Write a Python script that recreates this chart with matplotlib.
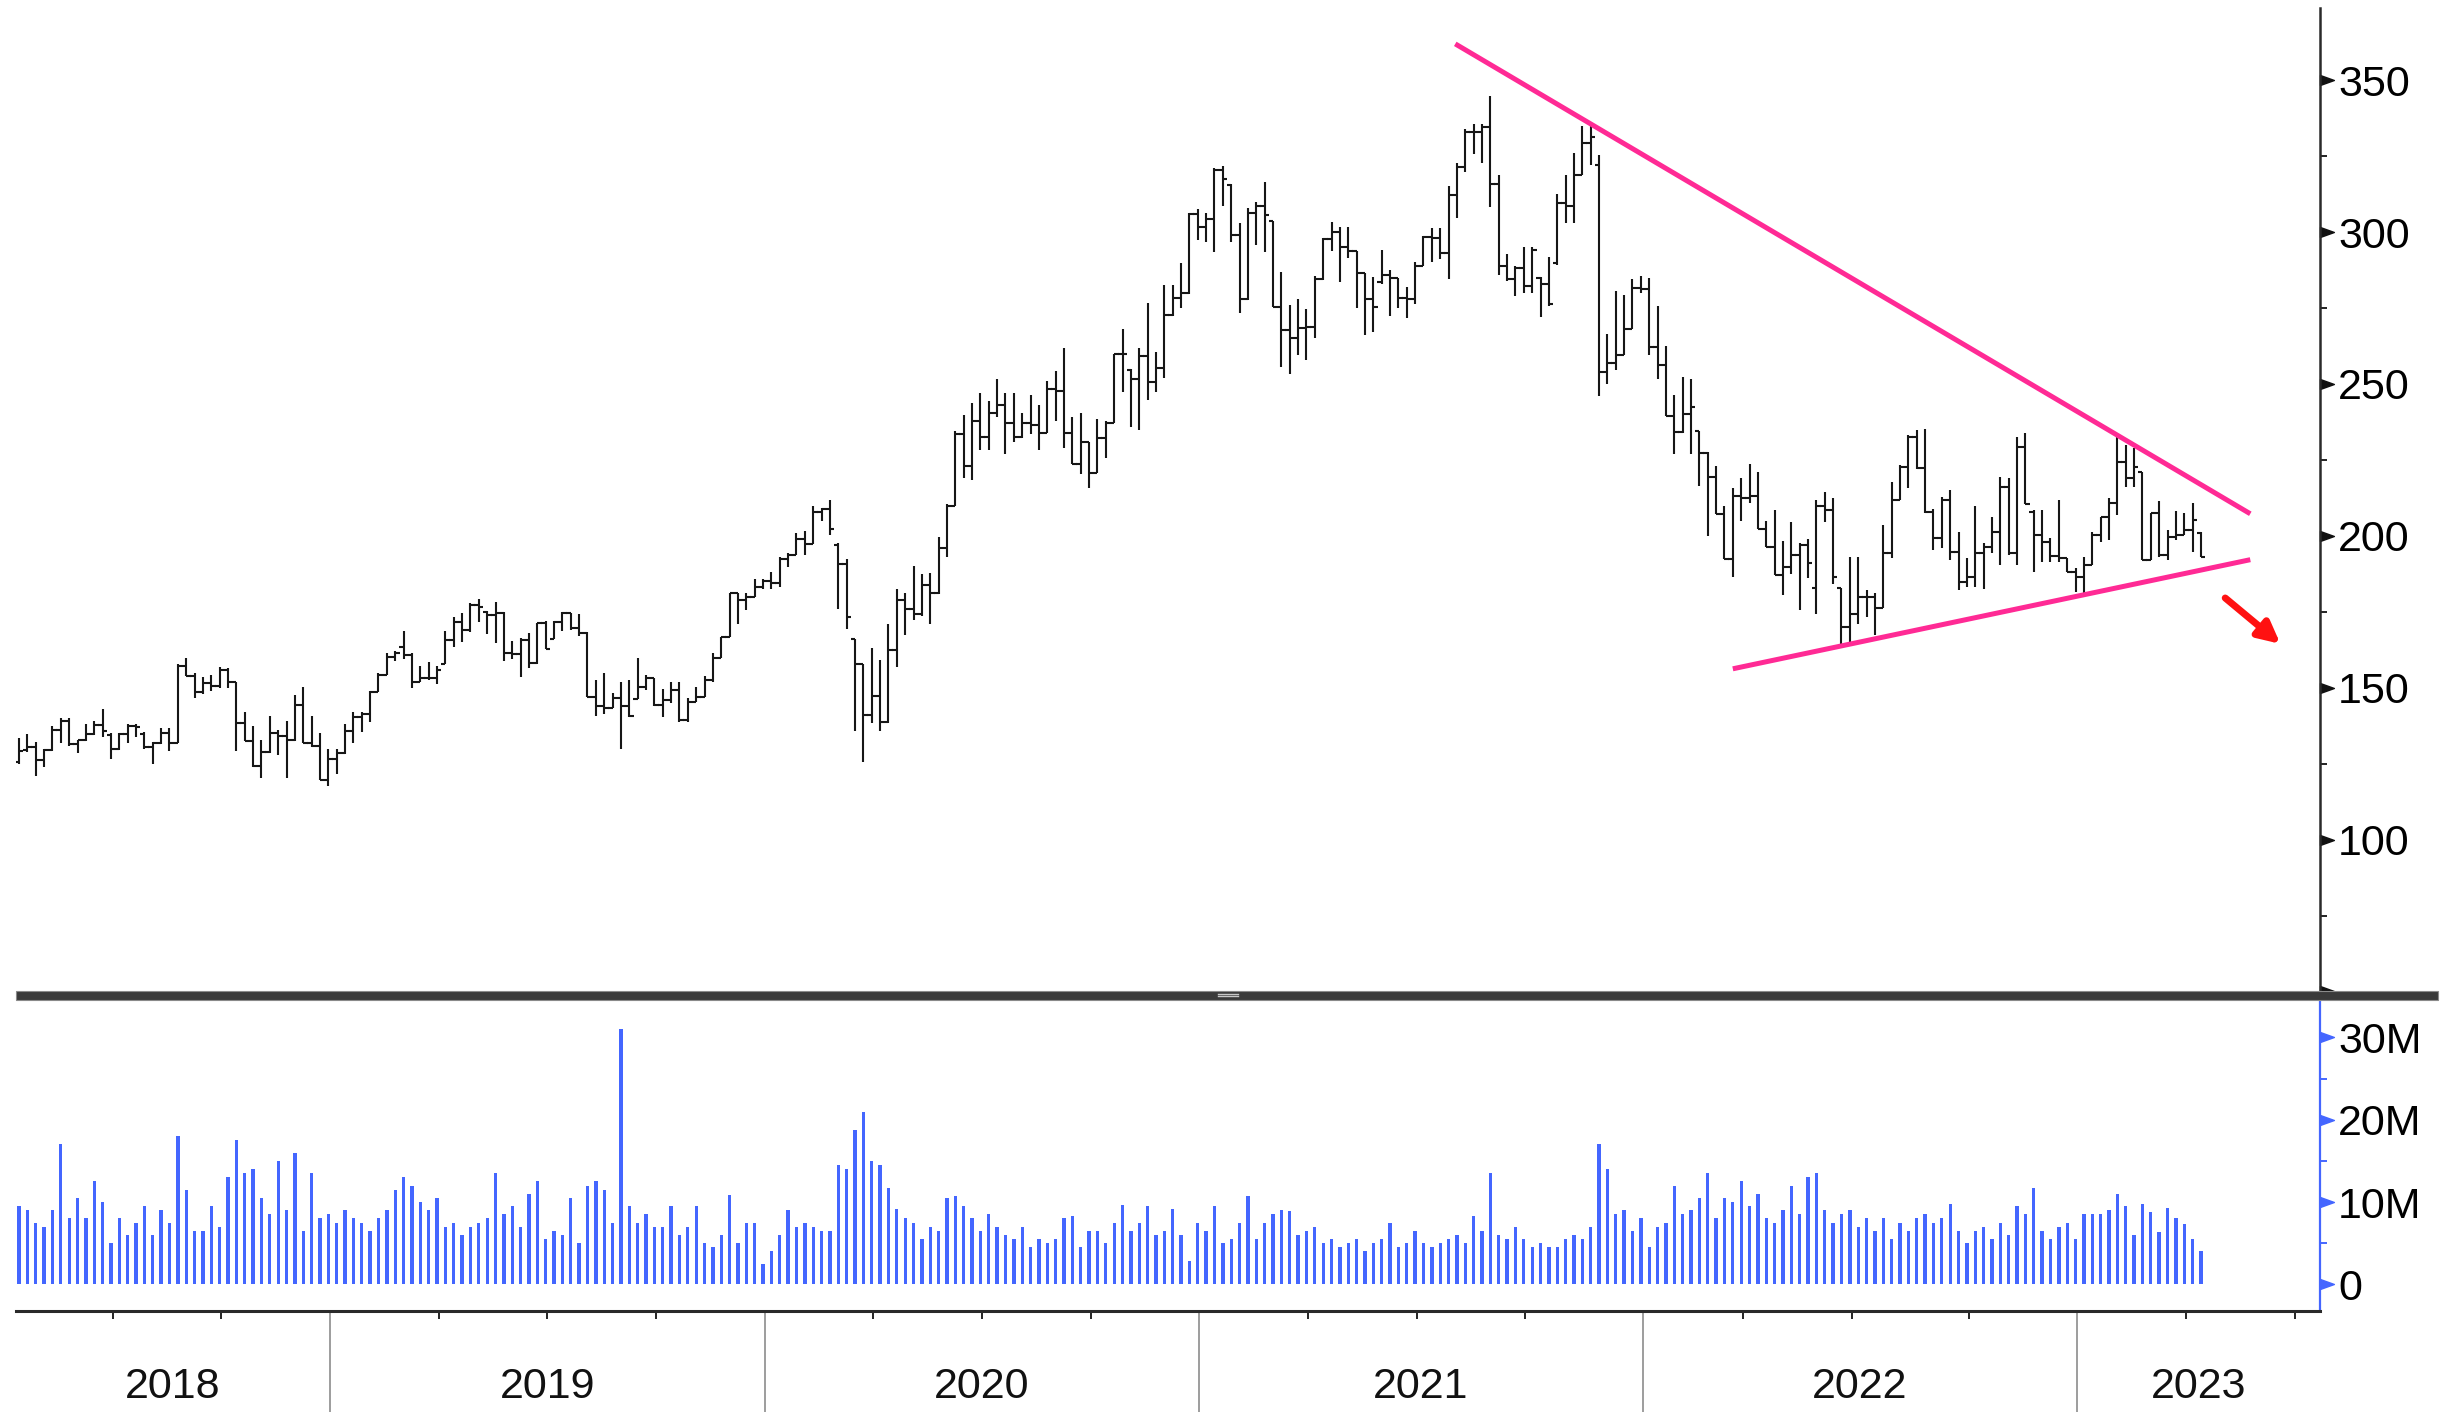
import matplotlib
matplotlib.use("Agg")
import matplotlib.pyplot as plt
from matplotlib.path import Path
from matplotlib.patches import Rectangle
from matplotlib.lines import Line2D
from matplotlib.transforms import blended_transform_factory
import numpy as np
import pandas as pd

plt.rcParams['font.family'] = ['Liberation Sans', 'DejaVu Sans']

# weekly bars (Friday dated), first one 2018-04-13; bars are spaced evenly by index
first_week = '2018-04-13'

opens = [
    125.8, 129.5, 130.5, 126.3, 129.6, 136.2, 139.0, 131.5, 132.9,
    135.0, 137.8, 134.5, 130.0, 135.0, 137.6, 135.0, 130.7, 132.0, 135.1,
    132.0, 157.2, 154.0, 148.8, 151.5, 150.7, 155.9, 152.0, 138.4, 132.6,
    124.3, 129.0, 135.3, 134.3, 132.9, 144.4, 132.0, 131.0, 119.7, 126.5,
    128.5, 136.0, 140.6, 141.5, 148.8, 154.3, 160.3, 163.4, 161.0, 152.1,
    153.2, 153.2, 158.0, 165.8, 171.8, 169.1, 177.3, 175.0, 174.0, 174.6,
    161.4, 161.2, 165.8, 158.1, 171.3, 166.0, 171.8, 174.6, 169.6, 168.2,
    147.1, 143.9, 143.3, 146.6, 143.9, 146.5, 150.4, 153.2, 144.4, 146.1,
    149.3, 139.5, 145.5, 147.1, 152.6, 159.8, 166.9, 181.1, 178.9, 180.0,
    183.3, 185.3, 184.6, 192.4, 193.7, 198.9, 197.2, 208.0, 209.0, 197.0,
    190.7, 166.0, 157.9, 141.0, 147.5, 138.7, 162.5, 178.8, 176.0, 174.2,
    184.0, 181.4, 195.9, 210.0, 233.6, 223.0, 237.9, 232.7, 240.5, 243.1,
    237.3, 232.7, 237.3, 236.6, 234.0, 248.3, 247.7, 234.0, 223.6, 230.8,
    220.6, 232.1, 237.3, 260.0, 254.5, 251.5, 259.2, 250.8, 255.2, 272.7,
    278.2, 279.8, 305.8, 301.8, 304.2, 320.4, 315.5, 299.0, 277.9, 306.1,
    308.6, 303.5, 275.4, 267.8, 265.0, 268.3, 268.9, 284.4, 297.6, 300.1,
    295.0, 293.9, 286.4, 277.9, 283.5, 285.9, 284.8, 278.2, 277.9, 288.8,
    298.5, 297.9, 293.2, 312.2, 321.3, 333.0, 333.0, 334.6, 315.8, 288.8,
    284.6, 288.2, 282.3, 285.0, 282.9, 289.9, 309.5, 308.4, 318.7, 329.3,
    322.0, 254.0, 257.0, 259.4, 268.2, 281.7, 281.1, 262.3, 256.4, 239.4,
    234.1, 240.0, 234.5, 227.3, 219.4, 207.1, 192.4, 213.0, 212.4, 213.2,
    202.4, 196.5, 187.1, 189.7, 193.6, 197.1, 183.0, 210.0, 208.5, 183.0,
    170.1, 174.2, 180.0, 180.0, 176.2, 194.5, 211.8, 222.6, 232.7, 222.2,
    208.0, 199.2, 212.0, 194.8, 185.0, 186.6, 194.5, 196.5, 201.4, 216.0,
    194.3, 229.4, 208.0, 200.3, 198.0, 193.4, 192.6, 188.3, 186.6, 190.4,
    200.3, 206.3, 210.9, 224.4, 219.0, 221.0, 192.1, 207.4, 193.7, 199.8,
    200.3, 202.0, 201.0,
]
highs = [
    133.4, 135.0, 132.3, 130.0, 137.6, 140.0, 140.0, 133.0, 138.0,
    139.0, 143.2, 135.3, 135.3, 138.0, 138.0, 135.5, 132.3, 136.7, 136.7,
    157.8, 159.8, 154.8, 153.7, 154.3, 157.0, 156.5, 152.1, 142.0, 137.6,
    132.9, 140.8, 136.2, 139.1, 147.7, 150.3, 140.8, 135.3, 130.0, 129.8,
    138.0, 142.2, 142.2, 149.0, 154.8, 161.6, 162.0, 168.9, 161.6, 157.2,
    158.7, 157.2, 168.9, 173.5, 174.6, 177.9, 179.2, 175.4, 178.4, 175.1,
    165.6, 166.3, 168.0, 171.3, 172.1, 172.1, 175.1, 174.8, 174.2, 168.5,
    152.6, 154.8, 148.2, 151.8, 152.6, 159.8, 154.3, 153.2, 149.6, 152.1,
    151.8, 146.6, 150.4, 153.9, 161.6, 166.9, 181.4, 181.1, 181.4, 185.7,
    185.9, 188.1, 193.0, 194.4, 201.1, 201.5, 210.0, 209.3, 211.9, 197.6,
    192.4, 166.1, 157.9, 163.2, 159.3, 171.0, 182.4, 181.1, 190.2, 187.6,
    187.9, 199.5, 210.6, 234.7, 239.9, 243.8, 247.0, 244.4, 251.6, 247.0,
    247.0, 240.5, 246.4, 243.1, 250.9, 254.2, 262.0, 239.2, 240.5, 230.8,
    238.6, 237.9, 260.0, 268.2, 254.8, 262.0, 276.8, 260.6, 282.6, 282.6,
    289.7, 306.1, 307.5, 306.1, 320.9, 321.7, 315.7, 302.9, 308.0, 310.0,
    316.6, 303.7, 287.0, 276.0, 278.0, 274.6, 285.5, 297.9, 303.4, 301.8,
    301.8, 293.9, 286.4, 285.1, 294.1, 287.5, 284.8, 281.8, 290.2, 298.7,
    301.2, 301.2, 315.1, 322.6, 333.8, 335.7, 335.7, 344.7, 318.7, 292.9,
    288.8, 295.2, 295.2, 285.2, 291.7, 312.6, 318.7, 326.0, 334.9, 335.4,
    325.2, 266.4, 280.5, 279.4, 284.6, 285.5, 284.9, 275.5, 262.6, 246.5,
    252.3, 251.7, 234.7, 227.5, 222.9, 210.0, 215.9, 219.1, 223.8, 221.0,
    205.0, 208.5, 198.3, 204.7, 197.7, 199.1, 211.8, 214.4, 212.4, 183.0,
    193.0, 193.0, 182.2, 181.1, 203.6, 217.9, 223.3, 233.2, 234.9, 235.1,
    208.8, 212.9, 215.1, 201.4, 192.6, 209.9, 197.6, 206.1, 219.5, 219.0,
    232.4, 233.8, 208.5, 208.5, 199.2, 211.8, 192.6, 189.3, 193.2, 201.4,
    206.3, 212.4, 232.4, 229.9, 228.8, 221.1, 207.7, 211.6, 202.0, 208.3,
    207.4, 210.9, 201.4,
]
lows = [
    125.0, 129.0, 121.0, 124.0, 129.4, 132.0, 131.0, 128.7, 132.5,
    134.5, 134.0, 126.6, 129.5, 132.0, 134.0, 129.9, 124.9, 131.5, 129.3,
    131.8, 153.9, 146.8, 147.9, 149.1, 150.0, 150.0, 129.4, 132.6, 124.1,
    120.3, 128.5, 128.0, 120.3, 132.5, 132.0, 130.7, 119.7, 117.8, 121.6,
    128.2, 132.0, 135.6, 138.9, 148.8, 154.3, 158.9, 159.4, 149.9, 151.8,
    152.6, 151.2, 157.9, 163.4, 165.2, 168.5, 171.8, 167.8, 164.7, 158.9,
    159.4, 153.7, 156.5, 157.9, 162.7, 166.0, 168.9, 169.1, 167.1, 146.9,
    140.8, 141.4, 143.3, 129.8, 140.4, 146.3, 149.3, 144.1, 140.3, 145.2,
    138.9, 138.9, 145.5, 147.1, 152.1, 159.8, 166.9, 171.1, 175.7, 180.0,
    182.4, 182.4, 183.3, 189.8, 193.7, 193.7, 197.2, 204.8, 200.2, 175.9,
    169.4, 135.8, 125.7, 138.4, 135.8, 138.5, 157.0, 167.3, 172.5, 173.8,
    171.2, 181.0, 193.0, 210.0, 219.1, 218.4, 228.2, 228.2, 239.2, 226.9,
    230.8, 232.1, 233.4, 228.2, 234.0, 237.9, 228.8, 223.6, 220.4, 215.8,
    220.6, 225.6, 237.3, 247.4, 236.0, 235.0, 244.7, 247.5, 251.9, 272.4,
    274.9, 279.5, 297.4, 296.6, 293.5, 308.6, 296.8, 273.2, 277.5, 295.7,
    293.5, 275.2, 255.7, 253.3, 259.5, 257.9, 265.0, 284.2, 293.9, 283.7,
    291.3, 274.9, 266.1, 267.2, 282.9, 272.4, 274.9, 271.6, 276.3, 288.8,
    290.2, 291.0, 284.4, 304.5, 319.8, 325.7, 322.6, 308.3, 285.8, 284.0,
    278.8, 280.0, 280.0, 272.0, 275.8, 289.0, 302.9, 302.9, 318.7, 322.2,
    245.9, 250.0, 254.7, 259.4, 268.0, 280.0, 259.4, 251.8, 239.4, 227.1,
    234.0, 227.1, 216.5, 200.0, 207.1, 192.4, 186.5, 205.0, 210.9, 202.4,
    196.5, 187.1, 180.6, 187.4, 175.6, 186.2, 174.4, 204.7, 184.2, 163.6,
    164.8, 171.2, 173.4, 167.5, 176.2, 192.6, 211.8, 215.7, 221.9, 207.7,
    195.4, 195.9, 192.1, 182.2, 183.3, 183.3, 182.4, 194.3, 190.4, 193.7,
    190.4, 210.5, 188.3, 191.5, 191.5, 191.5, 188.3, 181.7, 180.6, 190.4,
    198.1, 198.7, 206.9, 216.2, 216.2, 192.1, 192.1, 193.2, 192.1, 198.7,
    200.3, 194.8, 193.2,
]
closes = [
    129.1, 130.5, 126.3, 129.6, 136.2, 139.0, 131.5, 132.9, 135.0,
    137.8, 136.0, 130.0, 135.0, 137.6, 137.0, 130.7, 132.0, 135.1, 132.0,
    157.2, 154.0, 148.8, 151.5, 150.7, 155.9, 152.0, 138.4, 132.6, 124.3,
    129.0, 135.3, 134.3, 132.9, 144.4, 132.0, 131.0, 119.7, 126.5, 128.5,
    136.0, 140.6, 141.5, 148.8, 154.3, 160.3, 161.6, 161.0, 152.1, 153.2,
    153.2, 155.9, 165.8, 171.8, 169.1, 177.3, 176.5, 174.0, 174.6, 161.4,
    161.2, 165.8, 158.1, 171.3, 162.7, 171.8, 174.6, 169.6, 168.2, 147.1,
    143.9, 143.3, 146.6, 143.9, 140.8, 150.4, 153.2, 144.4, 146.1, 149.3,
    139.5, 145.5, 147.1, 152.6, 159.8, 166.9, 181.1, 178.9, 180.0, 183.3,
    185.3, 184.6, 192.4, 193.7, 198.9, 197.2, 208.0, 209.0, 202.2, 190.7,
    173.3, 157.9, 141.0, 147.5, 138.7, 162.5, 178.8, 176.0, 174.2, 184.0,
    181.4, 195.9, 210.0, 233.6, 223.0, 237.9, 232.7, 240.5, 243.1, 237.3,
    232.7, 237.3, 236.6, 234.0, 248.3, 247.7, 234.0, 223.6, 230.8, 220.6,
    232.1, 237.3, 260.0, 259.9, 251.5, 259.2, 250.8, 255.2, 272.7, 278.2,
    279.8, 305.8, 301.8, 304.2, 320.4, 317.3, 299.0, 277.9, 306.1, 308.6,
    305.6, 275.4, 267.8, 265.0, 268.3, 268.9, 284.4, 297.6, 300.1, 295.0,
    293.9, 286.4, 277.9, 275.4, 285.9, 284.8, 278.2, 277.9, 288.8, 298.5,
    297.9, 293.2, 312.2, 321.3, 333.0, 333.0, 334.6, 315.8, 288.8, 284.6,
    288.2, 282.3, 294.0, 282.9, 276.4, 309.5, 308.4, 318.7, 329.3, 331.1,
    254.0, 257.0, 259.4, 268.2, 281.7, 281.1, 262.3, 256.4, 239.4, 234.1,
    240.0, 242.3, 227.3, 219.4, 207.1, 192.4, 213.0, 212.4, 213.2, 202.4,
    196.5, 187.1, 189.7, 193.6, 197.1, 191.2, 210.0, 208.5, 186.5, 170.1,
    174.2, 180.0, 180.0, 176.2, 194.5, 211.8, 222.6, 232.7, 222.2, 208.0,
    199.2, 212.0, 194.8, 185.0, 186.6, 194.5, 196.5, 201.4, 216.0, 194.3,
    229.4, 210.5, 200.3, 198.0, 193.4, 192.6, 188.3, 186.6, 190.4, 200.3,
    206.3, 210.9, 224.4, 219.0, 222.8, 192.1, 207.4, 193.7, 199.8, 200.3,
    202.0, 205.2, 193.2,
]
# weekly volume, millions
volumes_m = [
    9.5, 9.0, 7.5, 7.0, 9.0, 17.0, 8.0, 10.5, 8.0,
    12.5, 10.0, 5.0, 8.0, 6.0, 7.5, 9.5, 6.0, 9.0, 7.5,
    18.0, 11.5, 6.5, 6.5, 9.5, 7.0, 13.0, 17.5, 13.5, 14.0,
    10.5, 8.5, 15.0, 9.0, 16.0, 6.5, 13.5, 8.0, 8.5, 7.5,
    9.0, 8.0, 7.5, 6.5, 8.0, 9.0, 11.5, 13.0, 12.0, 10.0,
    9.0, 10.5, 7.0, 7.5, 6.0, 7.0, 7.5, 8.0, 13.5, 8.5,
    9.5, 7.0, 11.0, 12.5, 5.5, 6.5, 6.0, 10.5, 5.0, 12.0,
    12.5, 11.5, 7.5, 31.0, 9.5, 7.5, 8.5, 7.0, 7.0, 9.5,
    6.0, 7.0, 9.5, 5.0, 4.5, 6.0, 10.8, 5.0, 7.5, 7.5,
    2.5, 4.0, 6.0, 9.0, 7.0, 7.5, 7.0, 6.5, 6.5, 14.5,
    14.0, 18.7, 21.0, 15.0, 14.5, 11.7, 9.2, 8.0, 7.5, 5.5,
    7.0, 6.5, 10.5, 10.7, 9.5, 8.0, 6.5, 8.5, 7.0, 6.0,
    5.5, 7.0, 4.5, 5.5, 5.0, 5.5, 8.0, 8.3, 4.5, 6.5,
    6.5, 5.0, 7.5, 9.6, 6.5, 7.5, 9.5, 6.0, 6.5, 9.2,
    6.0, 2.8, 7.5, 6.5, 9.5, 5.0, 5.5, 7.5, 10.7, 5.5,
    7.5, 8.5, 9.0, 8.9, 6.0, 6.5, 7.0, 5.0, 5.5, 4.5,
    5.0, 5.5, 4.0, 5.0, 5.5, 7.4, 4.5, 5.0, 6.5, 5.0,
    4.5, 5.0, 5.5, 6.0, 5.0, 8.3, 6.5, 13.5, 6.0, 5.5,
    7.0, 5.5, 4.5, 5.0, 4.5, 4.5, 5.5, 6.0, 5.5, 7.0,
    17.0, 14.0, 8.5, 9.0, 6.5, 8.0, 4.5, 7.0, 7.5, 12.0,
    8.5, 9.0, 10.5, 13.5, 8.0, 10.5, 10.0, 12.5, 9.5, 11.0,
    8.0, 7.5, 9.0, 12.0, 8.5, 13.0, 13.5, 9.0, 7.5, 8.5,
    9.0, 7.0, 8.0, 6.5, 8.0, 5.5, 7.5, 6.5, 8.0, 8.5,
    7.5, 8.0, 9.8, 6.5, 5.0, 6.5, 7.0, 5.5, 7.5, 6.0,
    9.5, 8.5, 11.7, 6.5, 5.5, 7.0, 7.5, 5.5, 8.5, 8.5,
    8.5, 9.0, 11.0, 9.5, 6.0, 9.8, 8.8, 6.4, 9.3, 8.1,
    7.3, 5.5, 4.0,
]

price_ticks = [100, 150, 200, 250, 300, 350]
vol_ticks = [0, 10, 20, 30]
vol_tick_labels = ['0', '10M', '20M', '30M']
years = [2018, 2019, 2020, 2021, 2022, 2023]
axis_end = '2023-07-28'

# hand-drawn trend lines and arrow, (bar position, price)
upper_line_x = [171.8, 266.9]
upper_line_y = [361.9, 207.3]
lower_line_x = [205.0, 266.9]
lower_line_y = [156.3, 192.2]
arrow_from = (263.9, 179.6)
arrow_to = (270.5, 164.5)

# ---------------------------------------------------------------
n = len(closes)
x = np.arange(n)
weeks = pd.date_range(first_week, axis_end, freq='7D')

fig = plt.figure(figsize=(24.59, 14.12), dpi=100)
ax = fig.add_axes([0.00651, 0.29816, 0.93697, 0.69617])
axv = fig.add_axes([0.00651, 0.07153, 0.93697, 0.22096], sharex=ax)

bar_col = '#161616'
tick_len = 0.52
ax.vlines(x, lows, highs, color=bar_col, lw=1.5)
ax.hlines(opens, x - tick_len, x, color=bar_col, lw=1.5)
ax.hlines(closes, x, x + tick_len, color=bar_col, lw=1.5)

ax.plot(upper_line_x, upper_line_y, color='#ff2a95', lw=3.6, solid_capstyle='butt')
ax.plot(lower_line_x, lower_line_y, color='#ff2a95', lw=3.6, solid_capstyle='butt')
ax.annotate('', xy=arrow_to, xytext=arrow_from,
            arrowprops=dict(arrowstyle='-|>', color='#ff1111', lw=5,
                            mutation_scale=32, shrinkA=0, shrinkB=0))

xmin, xmax = -0.36, 275.24
ax.set_xlim(xmin, xmax)
ax.set_ylim(50.3, 373.7)

# price axis on the right
for s in ['top', 'left', 'bottom']:
    ax.spines[s].set_visible(False)
ax.spines['right'].set_color('#2a2a2a')
ax.spines['right'].set_linewidth(1.8)
ax.yaxis.tick_right()
ax.set_yticks(price_ticks)
ax.set_yticklabels([str(v) for v in price_ticks])
ax.set_yticks(np.arange(75, 350, 50), minor=True)
ax.tick_params(axis='y', which='major', length=0, pad=13, labelsize=31)
ax.tick_params(axis='y', which='minor', length=5, width=1.4, color='#222222')
ax.tick_params(axis='x', which='both', bottom=False, labelbottom=False)

tri = Path([(0, -0.36), (1, 0), (0, 0.36), (0, -0.36)],
           [Path.MOVETO, Path.LINETO, Path.LINETO, Path.CLOSEPOLY])
tr_p = blended_transform_factory(ax.transAxes, ax.transData)
for v in price_ticks + [50.3]:
    ax.plot([1], [v], marker=tri, ms=20, color='#111111', lw=0,
            transform=tr_p, clip_on=False)

# volume panel
axv.bar(x, volumes_m, width=0.4, color='#4466ff')
axv.set_ylim(-3.24, 34.67)
for s in ['top', 'left']:
    axv.spines[s].set_visible(False)
axv.spines['right'].set_color('#4466ff')
axv.spines['right'].set_linewidth(1.6)
axv.spines['bottom'].set_color('#2a2a2a')
axv.spines['bottom'].set_linewidth(2.2)
axv.yaxis.tick_right()
axv.set_yticks(vol_ticks)
axv.set_yticklabels(vol_tick_labels)
axv.set_yticks([5, 15, 25], minor=True)
axv.tick_params(axis='y', which='major', length=0, pad=13, labelsize=31)
axv.tick_params(axis='y', which='minor', length=5, width=1.4, color='#4466ff')
tr_v = blended_transform_factory(axv.transAxes, axv.transData)
for v in vol_ticks:
    axv.plot([1], [v], marker=tri, ms=20, color='#4466ff', lw=0,
             transform=tr_v, clip_on=False)

# time axis: a period starts just before its first weekly bar
def period_pos(starts):
    return np.searchsorted(weeks, pd.DatetimeIndex(starts)) - 0.8

qs = pd.date_range('2018-07-01', '2023-07-01', freq='QS')
quarter_pos = period_pos([d for d in qs if d.month != 1])
year_pos = period_pos([f'{y}-01-01' for y in years[1:]])
axv.set_xticks(quarter_pos)
axv.tick_params(axis='x', which='major', length=6, width=1.4, color='#222222',
                labelbottom=False)

tr_x = blended_transform_factory(axv.transData, axv.transAxes)
for yp in year_pos:
    axv.plot([yp, yp], [0, -0.33], color='#8c8c8c', lw=1.2,
             transform=tr_x, clip_on=False)
bounds = [xmin] + list(year_pos) + [xmax]
for i, yr in enumerate(years):
    axv.text((bounds[i] + bounds[i + 1]) / 2, -0.245, str(yr), transform=tr_x,
             ha='center', va='center', fontsize=31, color='#111111')

# panel separator
fig.add_artist(Rectangle((0.00651, 0.2918), 0.9849, 0.0064, transform=fig.transFigure,
                         facecolor='#3a3a3a', edgecolor='#8a8a8a', lw=0.8, zorder=10))
for yy in (0.2943, 0.2957):
    fig.add_artist(Line2D([1218 / 2459, 1238 / 2459], [yy, yy], color='#c8c8c8',
                          lw=1.0, transform=fig.transFigure, zorder=11))

fig.savefig('out.png', dpi=100)
